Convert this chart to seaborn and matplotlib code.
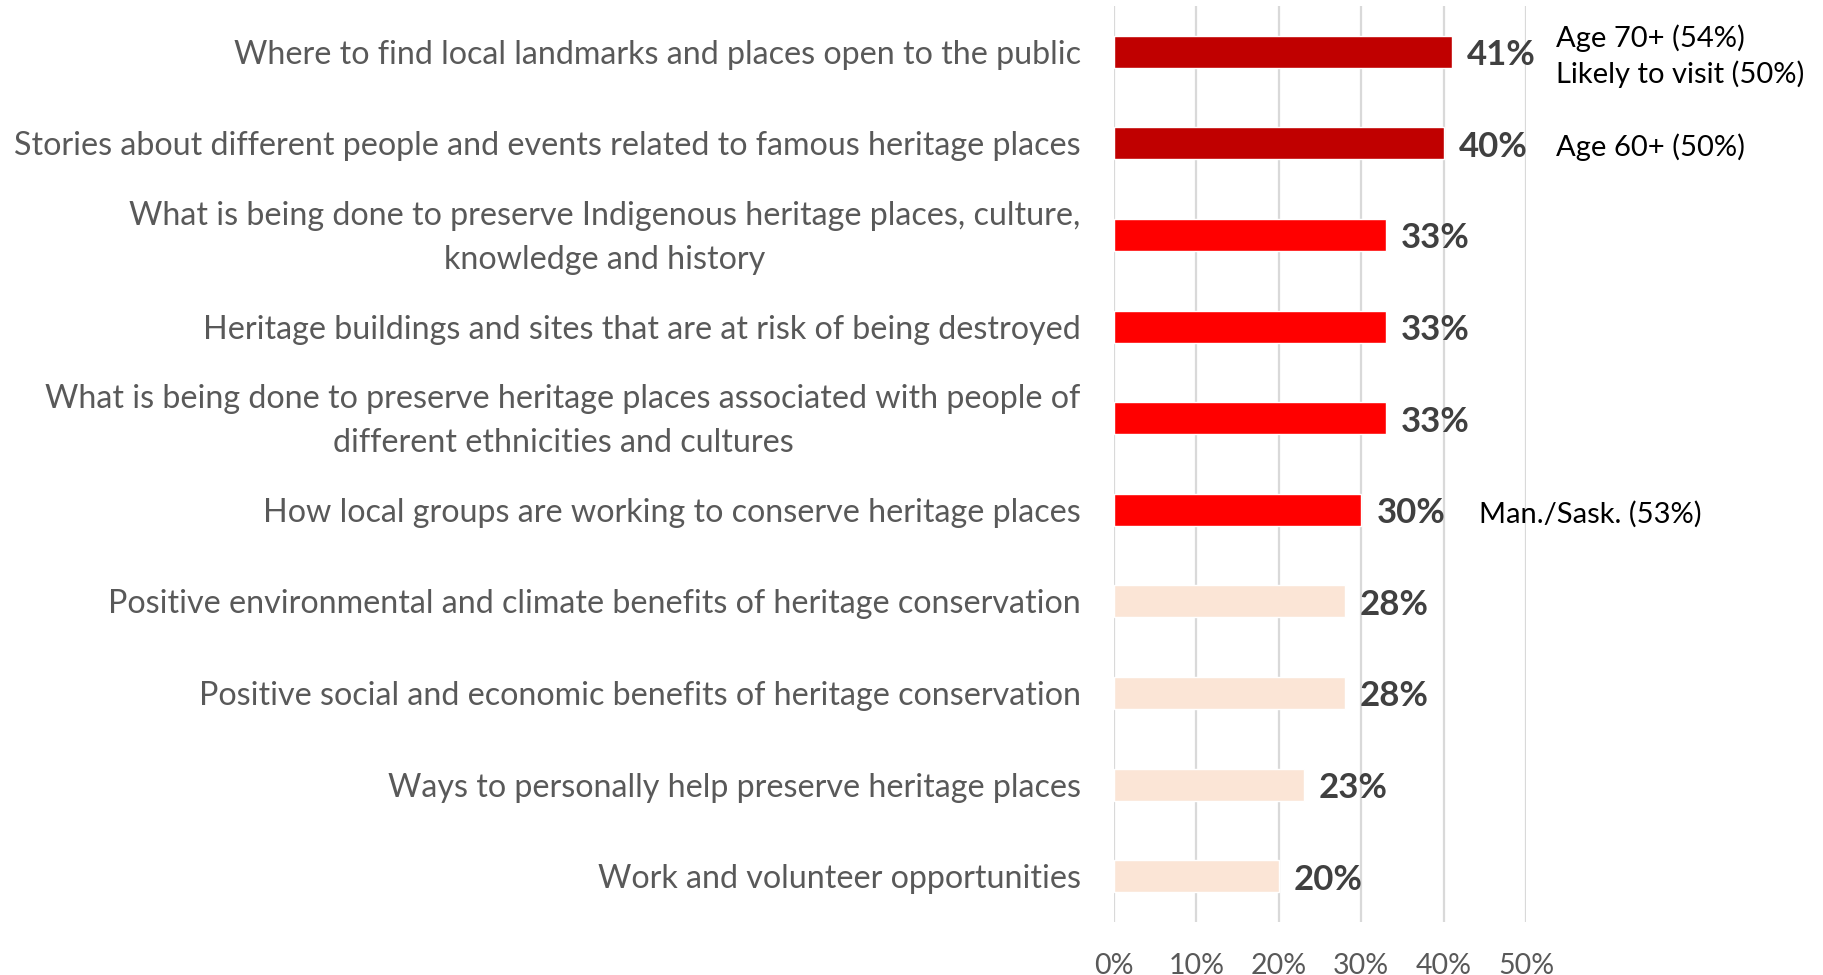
import matplotlib
matplotlib.use("Agg")
import matplotlib.pyplot as plt
import matplotlib.transforms as mtransforms
import seaborn as sns
import pandas as pd

# Survey: topics respondents would like to learn more about
topics = [
    "Where to find local landmarks and places open to the public",
    "Stories about different people and events related to famous heritage places",
    "What is being done to preserve Indigenous heritage places, culture,\nknowledge and history",
    "Heritage buildings and sites that are at risk of being destroyed",
    "What is being done to preserve heritage places associated with people of\ndifferent ethnicities and cultures",
    "How local groups are working to conserve heritage places",
    "Positive environmental and climate benefits of heritage conservation",
    "Positive social and economic benefits of heritage conservation",
    "Ways to personally help preserve heritage places",
    "Work and volunteer opportunities",
]
shares = [0.41, 0.40, 0.33, 0.33, 0.33, 0.30, 0.28, 0.28, 0.23, 0.20]
tiers = ["top", "top", "high", "high", "high", "high", "low", "low", "low", "low"]
subgroup_notes = [
    "Age 70+ (54%)\nLikely to visit (50%)",
    "Age 60+ (50%)",
    "", "", "",
    "Man./Sask. (53%)",
    "", "", "", "",
]
tick_values = [0.0, 0.1, 0.2, 0.3, 0.4, 0.5]
tick_labels = ["0%", "10%", "20%", "30%", "40%", "50%"]

tier_colors = {"top": "#C00000", "high": "#FF0000", "low": "#FBE5D6"}

df = pd.DataFrame({"topic": topics, "share": shares, "tier": tiers})

sns.set_theme(style="white")
plt.rcParams["font.family"] = ["Lato", "DejaVu Sans"]

fig = plt.figure(figsize=(18.23, 9.75), dpi=100)
ax = fig.add_axes([0.6111, 0.0544, 0.2260, 0.9394])

sns.barplot(data=df, y="topic", x="share", hue="tier", palette=tier_colors,
            orient="h", width=0.35, dodge=False, legend=False, ax=ax,
            saturation=1)

ax.set_xlim(0, 0.5)
ax.set_ylim(len(topics) - 0.5, -0.5)
ax.set_xticks(tick_values)
ax.set_xticklabels(tick_labels)
ax.set_xlabel("")
ax.set_ylabel("")
ax.xaxis.grid(True, color="#D9D9D9", linewidth=1.6)
ax.yaxis.grid(False)
ax.set_axisbelow(True)
for s in ax.spines.values():
    s.set_visible(False)
ax.tick_params(axis="x", length=0, pad=22, labelsize=20.5, labelcolor="#595959")
ax.tick_params(axis="y", length=0, pad=24, labelsize=23.2, labelcolor="#595959")

# two-line category labels: centred lines, nudged up to sit on the bar
lift = mtransforms.ScaledTranslation(0, 5 / 72, fig.dpi_scale_trans)
for lbl in ax.get_yticklabels():
    lbl.set_multialignment("center")
    lbl.set_linespacing(1.58)
    if "\n" in lbl.get_text():
        lbl.set_transform(lbl.get_transform() + lift)

# value labels next to each bar
for i, v in enumerate(shares):
    ax.annotate(f"{round(v * 100)}%", xy=(v, i), xytext=(11, -2.5),
                textcoords="offset points", ha="left", va="center",
                fontsize=25, fontweight="bold", color="#404040",
                annotation_clip=False)

# subgroup notes to the right
note_x = {0: 0.5365, 1: 0.5365, 5: 0.443}
for i, note in enumerate(subgroup_notes):
    if note:
        ax.text(note_x[i], i + 0.045, note, ha="left", va="center", fontsize=21,
                color="#000000", linespacing=1.35, clip_on=False)

fig.savefig("out.png", dpi=100)
